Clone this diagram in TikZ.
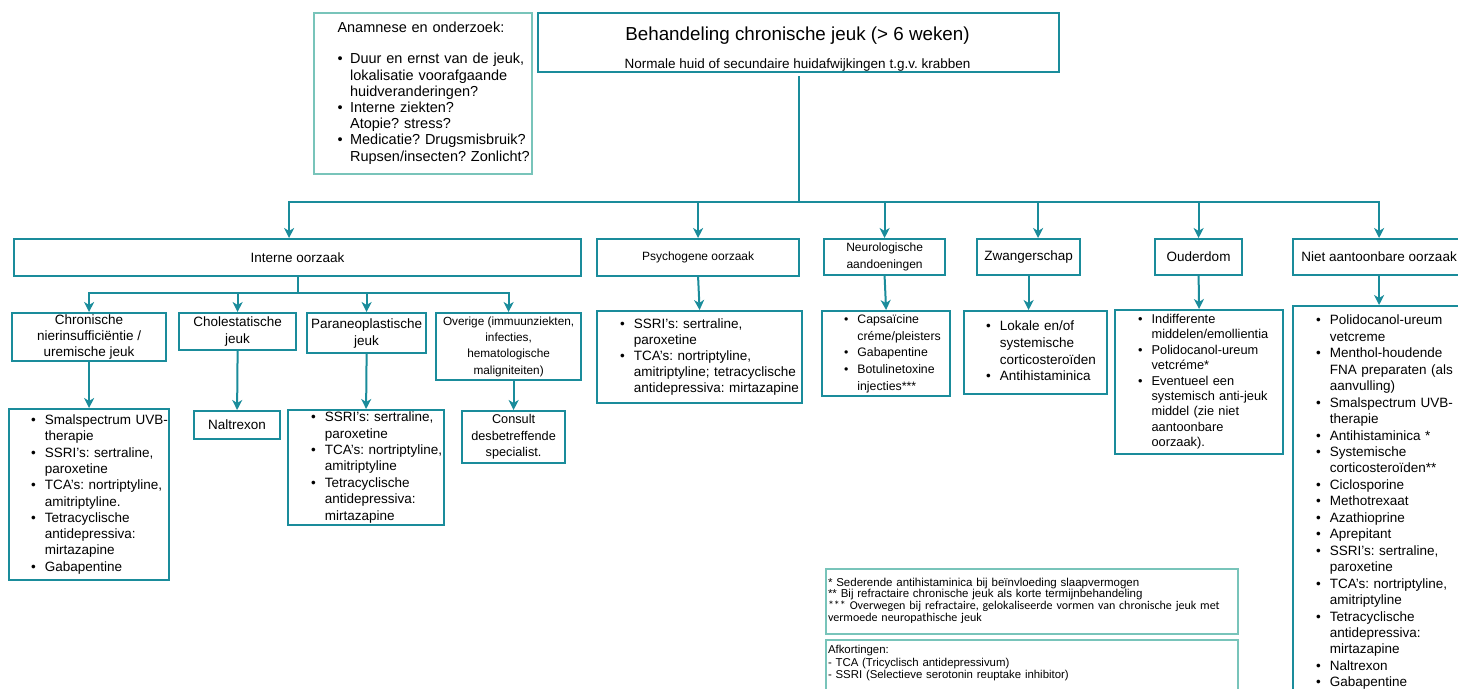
\documentclass[tikz,border=0pt]{standalone}
\usepackage{fontspec}
\setmainfont{Liberation Sans}
\newfontfamily\calibri{Carlito}
\usetikzlibrary{arrows.meta}
\frenchspacing

\definecolor{jeukteal}{RGB}{26,140,155}
\definecolor{jeuklicht}{RGB}{120,196,186}

\newcommand{\maat}[2]{\fontsize{#1}{#2}\selectfont}
\newcommand{\stip}{\textbullet}
\newcommand{\lijst}[1]{\begin{tabular}{@{}l@{\hspace{9pt}}l@{}}#1\end{tabular}}

\tikzset{
  vak/.style={draw=jeukteal, line width=2.2pt, anchor=north west, inner sep=0pt, align=center},
  lichtvak/.style={draw=jeuklicht, line width=2pt, anchor=north west, inner sep=0pt, align=left},
  lijstvak/.style 2 args={vak, align=left, inner xsep=#1, text width=#2},
  lijn/.style={draw=jeukteal, line width=2pt},
  pijl/.style={lijn, -{Stealth[length=10pt, width=10pt, inset=3pt]}},
}

\begin{document}
\begin{tikzpicture}[x=1pt, y=-1pt]
    \fill[white] (0,0) rectangle (1458,688);
    \useasboundingbox (0,0) rectangle (1458,688);

    % Anamnese
    \node[lichtvak, minimum width=218pt, minimum height=161pt, inner xsep=23.5pt, text width=171pt,
          font=\maat{14.5}{16.2}] (anamnese) at (313,12)
      {\begin{tabular}{@{}l@{\hspace{7.5pt}}l@{}}
        \multicolumn{2}{@{}l@{}}{Anamnese en onderzoek:}\\[-1pt]
        \\
        \stip & Duur en ernst van de jeuk,\\
              & lokalisatie voorafgaande\\
              & huidveranderingen?\\
        \stip & Interne ziekten?\\
              & Atopie? stress?\\
        \stip & Medicatie? Drugsmisbruik?\\
              & Rupsen/insecten? Zonlicht?
      \end{tabular}\par\vspace{6pt}};

    % Hoofdvak
    \node[vak, minimum width=521pt, minimum height=59pt] (titel) at (537,12) {};
    \node[anchor=base, font=\maat{18.8}{22}] (kop) at (797.5,40) {Behandeling chronische jeuk (> 6 weken)};
    \node[anchor=base, font=\maat{13.5}{16}] (ondertitel) at (797.5,68) {Normale huid of secundaire huidafwijkingen t.g.v. krabben};

    % Oorzaken
    \node[vak, minimum width=567pt, minimum height=37pt, font=\maat{13.5}{16}] (interne) at (13,238) {Interne oorzaak};
    \node[vak, minimum width=202pt, minimum height=37pt, font=\maat{12}{16}] (psy) at (596,238) {Psychogene oorzaak};
    \node[vak, minimum width=121pt, minimum height=36pt, font=\maat{12}{17}] (neuro) at (823,238) {Neurologische\\aandoeningen};
    \node[vak, minimum width=103pt, minimum height=36pt, font=\maat{13.5}{16}] (zwanger) at (976,238) {Zwangerschap};
    \node[vak, minimum width=87pt, minimum height=36pt, font=\maat{13.5}{16}] (ouder) at (1154,238) {Ouderdom};
    \node[vak, minimum width=172pt, minimum height=36pt, font=\maat{13.5}{16}] (niet) at (1292,238) {Niet aantoonbare oorzaak};

    % Interne oorzaak, onderverdeling
    \node[vak, minimum width=154pt, minimum height=48pt, font=\maat{13.5}{16}] (chron) at (11,312) {Chronische\\nierinsufficiëntie /\\uremische jeuk};
    \node[vak, minimum width=117pt, minimum height=37pt, font=\maat{13.5}{17}] (choles) at (178,312) {Cholestatische\\jeuk};
    \node[vak, minimum width=119pt, minimum height=40pt, font=\maat{13.5}{17}] (paraneo) at (306,312) {Paraneoplastische\\jeuk};
    \node[vak, minimum width=145pt, minimum height=67pt, font=\maat{11.8}{16.3}] (overige) at (435,312) {Overige (immuunziekten,\\infecties,\\hematologische\\maligniteiten)};

    % Behandelingen
    \node[lijstvak={22pt}{116pt}, minimum height=171pt, font=\maat{13.5}{16.3}] (chronb) at (8,408)
      {\lijst{\stip & Smalspectrum UVB-\\ & therapie\\ \stip & SSRI's: sertraline,\\ & paroxetine\\
              \stip & TCA's: nortriptyline,\\ & amitriptyline.\\ \stip & Tetracyclische\\ & antidepressiva:\\
              & mirtazapine\\ \stip & Gabapentine}};
    \node[vak, minimum width=86pt, minimum height=28pt, font=\maat{13.5}{16}] (naltrexon) at (193,410) {Naltrexon};
    \node[lijstvak={23pt}{110pt}, minimum height=115pt, font=\maat{13.5}{16.4}] (paraneob) at (287,409)
      {\lijst{\stip & SSRI's: sertraline,\\ & paroxetine\\ \stip & TCA's: nortriptyline,\\ & amitriptyline\\
              \stip & Tetracyclische\\ & antidepressiva:\\ & mirtazapine}};
    \node[vak, minimum width=103pt, minimum height=52pt, font=\maat{12.7}{16.5}] (consult) at (461,410) {Consult\\desbetreffende\\specialist.};

    \node[lijstvak={23pt}{159pt}, minimum height=92pt, font=\maat{13.5}{16}] (psyb) at (596,310)
      {\lijst{\stip & SSRI's: sertraline,\\ & paroxetine\\ \stip & TCA's: nortriptyline,\\
              & amitriptyline; tetracyclische\\ & antidepressiva: mirtazapine}};
    \node[lijstvak={22pt}{84pt}, minimum height=85pt, font=\maat{12.3}{16.8}] (neurob) at (821,310)
      {\lijst{\stip & Capsaïcine\\ & créme/pleisters\\ \stip & Gabapentine\\ \stip & Botulinetoxine\\ & injecties***}};
    \node[lijstvak={22pt}{99pt}, minimum height=83pt, font=\maat{13.5}{16.7}] (zwangerb) at (963,310)
      {\lijst{\stip & Lokale en/of\\ & systemische\\ & corticosteroïden\\ \stip & Antihistaminica}};
    \node[lijstvak={23pt}{122pt}, minimum height=144pt, font=\maat{12.8}{15.4}] (ouderb) at (1114,309)
      {\lijst{\stip & Indifferente\\ & middelen/emollientia\\ \stip & Polidocanol-ureum\\ & vetcréme*\\
              \stip & Eventueel een\\ & systemisch anti-jeuk\\ & middel (zie niet\\ & aantoonbare\\ & oorzaak).}};
    \node[lijstvak={23pt}{126pt}, minimum height=393pt, font=\maat{13.5}{16.45}] (nietb) at (1292,305)
      {\lijst{\stip & Polidocanol-ureum\\ & vetcreme\\ \stip & Menthol-houdende\\ & FNA preparaten (als\\ & aanvulling)\\
              \stip & Smalspectrum UVB-\\ & therapie\\ \stip & Antihistaminica *\\ \stip & Systemische\\ & corticosteroïden**\\
              \stip & Ciclosporine\\ \stip & Methotrexaat\\ \stip & Azathioprine\\ \stip & Aprepitant\\
              \stip & SSRI's: sertraline,\\ & paroxetine\\ \stip & TCA's: nortriptyline,\\ & amitriptyline\\
              \stip & Tetracyclische\\ & antidepressiva:\\ & mirtazapine\\ \stip & Naltrexon\\ \stip & Gabapentine}};

    % Voetnoten
    \node[lichtvak, minimum width=412pt, minimum height=65pt, inner xsep=2pt, text width=408pt,
          font=\maat{11.5}{11.7}] (noten) at (825,568)
      {\begin{tabular}{@{}l@{}}
        {}* Sederende antihistaminica bij beïnvloeding slaapvermogen\\
        {}** Bij refractaire chronische jeuk als korte termijnbehandeling\\
        {\calibri\maat{12}{11.7}*** Overwegen bij refractaire, gelokaliseerde vormen van chronische jeuk met}\\
        {\calibri\maat{12}{11.7}vermoede neuropathische jeuk}
      \end{tabular}};
    \node[lichtvak, minimum width=412pt, minimum height=60pt, inner xsep=2pt, text width=408pt,
          font=\maat{11.4}{12.5}] (afkortingen) at (825,639)
      {\begin{tabular}{@{}l@{}}
        Afkortingen:\\
        - TCA (Tricyclisch antidepressivum)\\
        - SSRI (Selectieve serotonin reuptake inhibitor)\\
        \\
      \end{tabular}};

    % Verbindingen
    \coordinate (hub) at (titel.south |- 0,202);
    \draw[lijn] ([yshift=-3pt]titel.south) -- (hub);
    \draw[pijl] (hub) -| ([xshift=-8.5pt]interne.north);
    \draw[pijl] (hub) -| (psy.north);
    \draw[pijl] (hub) -| (neuro.north);
    \draw[pijl] (hub) -| ([xshift=9.5pt]zwanger.north);
    \draw[pijl] (hub) -| (ouder.north);
    \draw[pijl] (hub) -| (niet.north);

    \coordinate (ihub) at (interne.south |- 0,293);
    \draw[lijn] (interne.south) -- (ihub);
    \draw[pijl] (ihub) -| (chron.north);
    \draw[pijl] (ihub) -| (choles.north);
    \draw[pijl] (ihub) -| (paraneo.north);
    \draw[pijl] (ihub) -| (overige.north);

    \draw[pijl] (chron.south) -- (chronb.north);
    \draw[pijl] (choles.south) -- (naltrexon.north);
    \draw[pijl] (paraneo.south) -- (paraneob.north);
    \draw[pijl] (overige.south -| consult.north) -- (consult.north);
    \draw[pijl] (psy.south) -- (psyb.north);
    \draw[pijl] (neuro.south) -- (neurob.north);
    \draw[pijl] (zwanger.south) -- (zwanger.south |- zwangerb.north);
    \draw[pijl] (ouder.south) -- (ouderb.north);
    \draw[pijl] (niet.south) -- (nietb.north);
\end{tikzpicture}
\end{document}
